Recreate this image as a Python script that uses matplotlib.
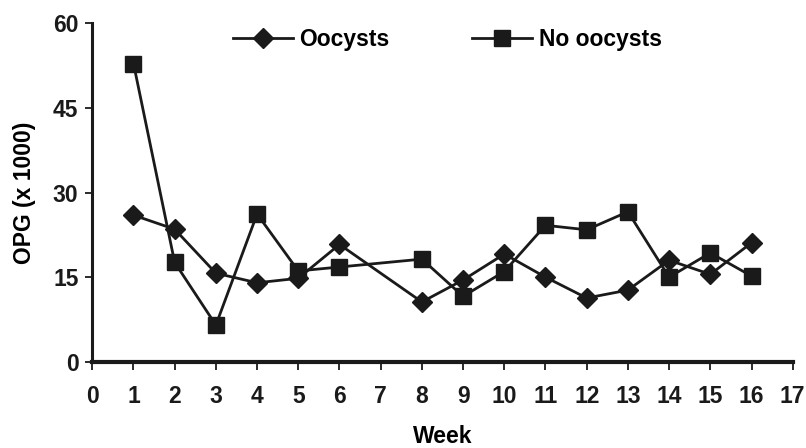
import matplotlib.pyplot as plt
import numpy as np

plt.rcParams['font.family'] = ['Liberation Sans', 'DejaVu Sans']
plt.rcParams['font.weight'] = 'bold'

weeks = [1, 2, 3, 4, 5, 6, 8, 9, 10, 11, 12, 13, 14, 15, 16]
oocysts = [26.0, 23.5, 15.7, 14.0, 14.8, 20.8, 10.6, 14.5, 19.1, 15.0, 11.3, 12.7, 18.0, 15.5, 21.1]
no_oocysts = [52.9, 17.6, 6.5, 26.2, 16.1, 16.8, 18.2, 11.6, 16.0, 24.2, 23.4, 26.6, 15.0, 19.3, 15.2]

fs = 16.5
fig = plt.figure(figsize=(8.06, 4.48), dpi=100)
ax = fig.add_axes([0.1145, 0.1926, 0.869, 0.755])

ax.plot(weeks, oocysts, color='#1a1a1a', lw=2, marker='D', markersize=10,
        label='Oocysts', clip_on=False)
ax.plot(weeks, no_oocysts, color='#1a1a1a', lw=2, marker='s', markersize=11.5,
        label='No oocysts', clip_on=False)

ax.set_xlim(0, 17)
ax.set_ylim(0, 60)
ax.set_xticks(np.arange(0, 18, 1))
ax.set_yticks([0, 15, 30, 45, 60])
for s in ['top', 'right']:
    ax.spines[s].set_visible(False)
ax.spines['left'].set_linewidth(2.2)
ax.spines['bottom'].set_linewidth(3)
for s in ['left', 'bottom']:
    ax.spines[s].set_color('#1a1a1a')
ax.tick_params(axis='x', length=6, width=1.3, colors='#1a1a1a', labelsize=fs, pad=11)
ax.tick_params(axis='y', length=5, width=1.3, colors='#1a1a1a', labelsize=fs, pad=5)

ax.set_xlabel('Week', fontsize=fs, fontweight='bold', labelpad=12)
ax.set_ylabel('OPG (x 1000)', fontsize=fs, fontweight='bold', labelpad=12)

ax.legend(loc='center', bbox_to_anchor=(0.507, 0.952), ncol=2, frameon=False,
          fontsize=fs, handlelength=2.6, columnspacing=3.6, handletextpad=0.3)

plt.savefig('out.png', dpi=100)
